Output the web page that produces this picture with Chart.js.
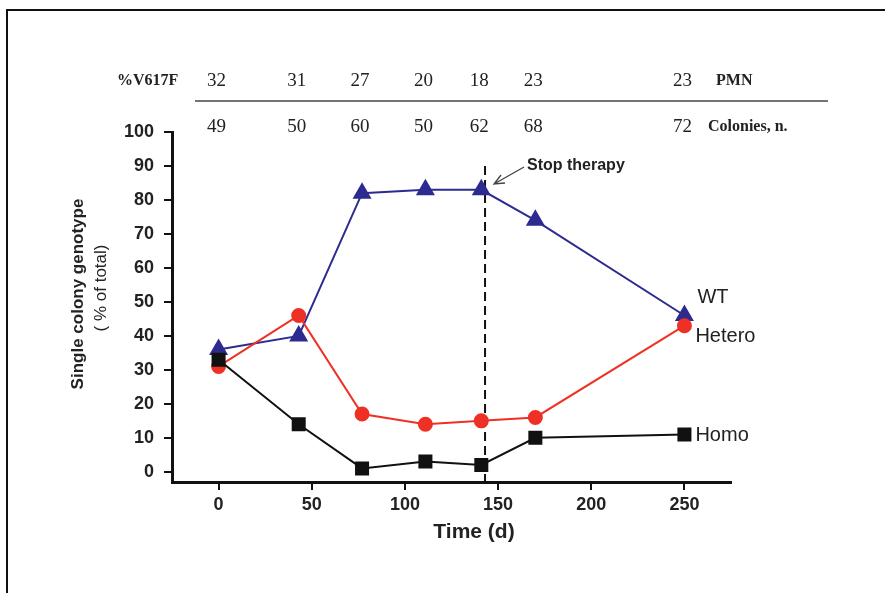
<!DOCTYPE html>
<html>
<head>
<meta charset="utf-8">
<script src="https://cdn.jsdelivr.net/npm/chart.js@4"></script>
<style>
  body { margin: 0; background: #fff; }
  #wrap { width: 885px; height: 593px; }
</style>
</head>
<body>
<div id="wrap"><canvas id="myChart" width="885" height="593"></canvas></div>
<script>
// data
const days = [0, 43, 77, 111, 141, 170, 250];
const wt = [36, 40, 82, 83, 83, 74, 46];
const hetero = [31, 46, 17, 14, 15, 16, 43];
const homo = [33, 14, 1, 3, 2, 10, 11];
const v617f = [32, 31, 27, 20, 18, 23, 23];
const colonies = [49, 50, 60, 50, 62, 68, 72];
const xTicks = [0, 50, 100, 150, 200, 250];
const yTicks = [0, 10, 20, 30, 40, 50, 60, 70, 80, 90, 100];
const stopDay = 143;

const blue = '#2d2b8f';
const red = '#ee3124';
const black = '#111111';
const tickFont = { family: 'Liberation Sans, Arial, sans-serif', size: 18, weight: 'bold' };

function pts(vals) {
    return days.map((d, i) => ({ x: d, y: vals[i] }));
}

// extra text, dashed line, table, frame
const extras = {
    id: 'extras',
    beforeDatasetsDraw(chart) {
        const c = chart.ctx;
        const xs = chart.scales.x;
        const ys = chart.scales.y;
        const px = xs.getPixelForValue(stopDay);
        c.save();
        c.strokeStyle = black;
        c.lineWidth = 2;
        c.setLineDash([9, 5]);
        c.beginPath();
        c.moveTo(px, ys.getPixelForValue(90));
        c.lineTo(px, ys.getPixelForValue(ys.min));
        c.stroke();
        c.restore();
    },
    afterDraw(chart) {
        const c = chart.ctx;
        const xs = chart.scales.x;
        const ys = chart.scales.y;
        c.save();

        // frame
        c.strokeStyle = '#111';
        c.lineWidth = 2;
        c.beginPath();
        c.moveTo(7, 593);
        c.lineTo(7, 10);
        c.lineTo(885, 10);
        c.stroke();

        // table on top
        c.fillStyle = '#222';
        c.textBaseline = 'middle';
        c.font = 'bold 16px "Liberation Serif", "Times New Roman", serif';
        c.textAlign = 'left';
        c.fillText('%V617F', 117, 81);
        c.fillText('PMN', 716, 81);
        c.fillText('Colonies, n.', 708, 127);
        c.font = '19px "Liberation Serif", "Times New Roman", serif';
        c.textAlign = 'center';
        days.forEach((d, i) => {
            const x = xs.getPixelForValue(d) - 2;
            c.fillText(String(v617f[i]), x, 81);
            c.fillText(String(colonies[i]), x, 127);
        });
        c.strokeStyle = '#444';
        c.lineWidth = 1.5;
        c.beginPath();
        c.moveTo(195, 101);
        c.lineTo(828, 101);
        c.stroke();

        // series labels
        const lx = xs.getPixelForValue(250) + 11;
        c.fillStyle = '#222';
        c.font = '20px "Liberation Sans", Arial, sans-serif';
        c.textAlign = 'left';
        c.fillText('WT', lx + 2, ys.getPixelForValue(wt[6]) - 18);
        c.fillText('Hetero', lx, ys.getPixelForValue(hetero[6]) + 11);
        c.fillText('Homo', lx, ys.getPixelForValue(homo[6]) + 1);

        // stop therapy note + arrow
        c.font = 'bold 16px "Liberation Sans", Arial, sans-serif';
        c.fillText('Stop therapy', 527, 166);
        c.strokeStyle = '#444';
        c.lineWidth = 1.3;
        c.beginPath();
        c.moveTo(524, 167);
        c.lineTo(494, 184);
        c.moveTo(501, 175);
        c.lineTo(494, 184);
        c.lineTo(505, 183);
        c.stroke();

        // axis titles
        c.fillStyle = '#222';
        c.textAlign = 'center';
        c.font = 'bold 21px "Liberation Sans", Arial, sans-serif';
        c.fillText('Time (d)', 474, 532);
        c.translate(78, 294);
        c.rotate(-Math.PI / 2);
        c.font = 'bold 17px "Liberation Sans", Arial, sans-serif';
        c.fillText('Single colony genotype', 0, 0);
        c.font = '17px "Liberation Sans", Arial, sans-serif';
        c.fillText('( % of total)', 6, 23);
        c.restore();
    }
};

const ctx = document.getElementById('myChart').getContext('2d');
const myChart = new Chart(ctx, {
    type: 'line',
    data: {
        datasets: [
            {
                label: 'Homo',
                data: pts(homo),
                borderColor: black,
                backgroundColor: black,
                borderWidth: 2,
                pointStyle: 'rect',
                pointRadius: 8.5,
                pointHoverRadius: 8.5
            },
            {
                label: 'Hetero',
                data: pts(hetero),
                borderColor: red,
                backgroundColor: red,
                borderWidth: 2,
                pointStyle: 'circle',
                pointRadius: 6.5,
                pointHoverRadius: 6.5
            },
            {
                label: 'WT',
                data: pts(wt),
                borderColor: blue,
                backgroundColor: blue,
                borderWidth: 2,
                pointStyle: 'triangle',
                pointRadius: 9,
                pointHoverRadius: 9
            }
        ]
    },
    options: {
        responsive: false,
        animation: false,
        layout: { padding: { left: 0, right: 154, top: 132, bottom: 0 } },
        plugins: {
            legend: { display: false },
            tooltip: { enabled: false }
        },
        scales: {
            x: {
                type: 'linear',
                min: -25,
                max: 275,
                afterBuildTicks: (s) => { s.ticks = xTicks.map(v => ({ value: v })); },
                afterFit: (s) => { s.height = 111; },
                grid: { drawOnChartArea: false, drawTicks: true, tickLength: 8, color: black, lineWidth: 2 },
                border: { display: true, color: black, width: 3 },
                ticks: { color: '#222', font: tickFont, padding: 4, maxRotation: 0 }
            },
            y: {
                type: 'linear',
                min: -3,
                max: 100,
                afterBuildTicks: (s) => { s.ticks = yTicks.map(v => ({ value: v })); },
                afterFit: (s) => { s.width = 172; },
                grid: { drawOnChartArea: false, drawTicks: true, tickLength: 8, color: black, lineWidth: 2 },
                border: { display: true, color: black, width: 3 },
                ticks: { color: '#222', font: tickFont, padding: 10 }
            }
        }
    },
    plugins: [extras]
});
</script>
</body>
</html>
